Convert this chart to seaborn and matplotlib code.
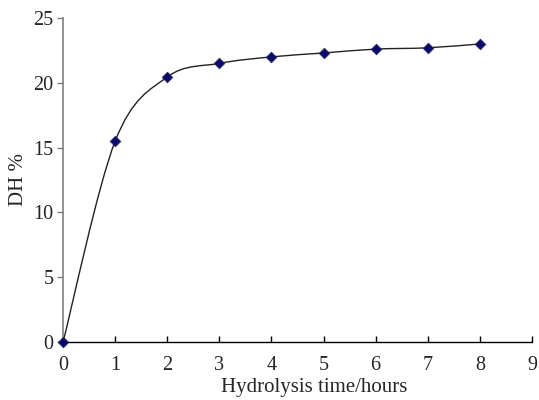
import numpy as np
import pandas as pd
import seaborn as sns
import matplotlib.pyplot as plt
from matplotlib.path import Path
from matplotlib.patches import PathPatch

# hydrolysis data
hours = [0, 1, 2, 3, 4, 5, 6, 7, 8]
dh = [0, 15.5, 20.45, 21.5, 22.0, 22.3, 22.6, 22.7, 23.0]
x_ticks = [0, 1, 2, 3, 4, 5, 6, 7, 8, 9]
y_ticks = [0, 5, 10, 15, 20, 25]

df = pd.DataFrame({'hours': hours, 'dh': dh})

sns.set_style('white')
plt.rcParams['font.family'] = ['Liberation Serif', 'DejaVu Serif']

fig = plt.figure(figsize=(5.39, 4), dpi=100)
ax = fig.add_axes([0.117, 0.145, 0.870, 0.81])

# smoothed line, like a spreadsheet "smoothed line" (bezier through the points)
pts = df[['hours', 'dh']].values
n = len(pts)
verts = [pts[0]]
codes = [Path.MOVETO]
for i in range(n - 1):
    p0 = pts[max(i - 1, 0)]
    p1 = pts[i]
    p2 = pts[i + 1]
    p3 = pts[min(i + 2, n - 1)]
    c1 = p1 + (p2 - p0) / 6
    c2 = p2 - (p3 - p1) / 6
    verts += [c1, c2, p2]
    codes += [Path.CURVE4] * 3
ax.add_patch(PathPatch(Path(verts, codes), fill=False, edgecolor='#222222', lw=1.0))

sns.scatterplot(data=df, x='hours', y='dh', marker='D', s=30, color='#0a0a6e',
                edgecolor='#333355', linewidth=0.5, ax=ax, clip_on=False, zorder=5)

ax.set_xlim(0, 9)
ax.set_ylim(0, 25)
ax.set_xticks(x_ticks)
ax.set_yticks(y_ticks)
ax.tick_params(axis='x', direction='in', length=4, width=1, labelsize=14.5, pad=10)
ax.tick_params(axis='y', direction='out', length=4, width=1, labelsize=14.5, pad=3,
               color='#808080', left=True)
ax.tick_params(axis='x', bottom=True, color='black')

for s in ['top', 'right']:
    ax.spines[s].set_visible(False)
ax.spines['left'].set_color('#808080')
ax.spines['left'].set_linewidth(1.2)
ax.spines['bottom'].set_color('black')
ax.spines['bottom'].set_linewidth(1.0)

ax.set_xlabel('Hydrolysis time/hours', fontsize=15)
ax.xaxis.set_label_coords(0.535, -0.11)
ax.set_ylabel('DH %', fontsize=15, labelpad=4)

fig.savefig('out.png', dpi=100)
